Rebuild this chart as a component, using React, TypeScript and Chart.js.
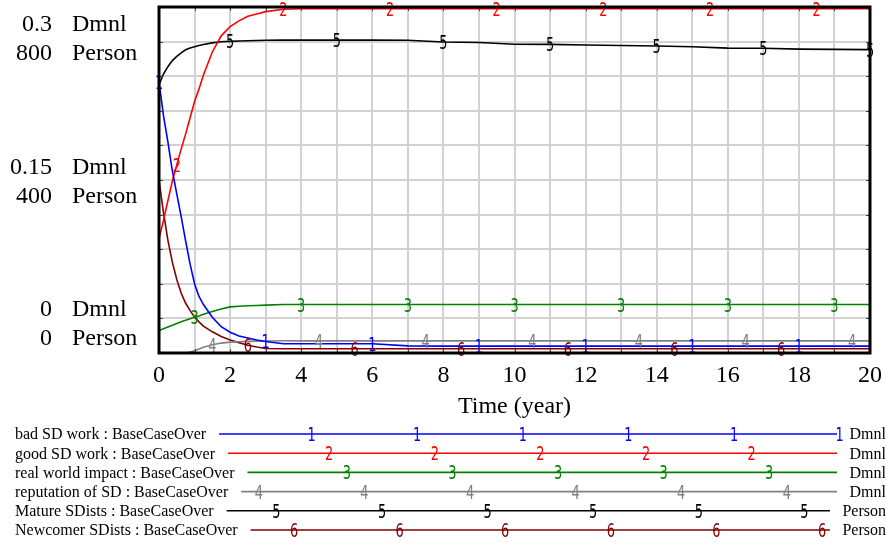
import React, { useEffect, useRef } from 'react';
import { Chart, registerables } from 'chart.js';

Chart.register(...registerables);

// ---------- DATA ----------
const TIME = [0, 0.125, 0.25, 0.375, 0.5, 0.625, 0.75, 0.875, 1, 1.125, 1.25, 1.5, 1.75, 2, 2.25, 2.5, 2.75, 3, 3.5, 4, 5, 6, 7, 8, 9, 10, 11, 12, 13, 14, 15, 16, 17, 18, 19, 20];

const BAD_SD_WORK = [0.235, 0.206, 0.183, 0.158, 0.138, 0.118, 0.097, 0.077, 0.06, 0.049, 0.042, 0.031, 0.0228, 0.018, 0.0148, 0.013, 0.0112, 0.01, 0.008, 0.008, 0.008, 0.008, 0.0062, 0.006, 0.006, 0.006, 0.006, 0.006, 0.006, 0.006, 0.006, 0.006, 0.006, 0.006, 0.006, 0.006];
const GOOD_SD_WORK = [0.099, 0.115, 0.132, 0.149, 0.163, 0.177, 0.19, 0.204, 0.218, 0.229, 0.241, 0.261, 0.275, 0.283, 0.288, 0.292, 0.294, 0.296, 0.298, 0.2985, 0.2985, 0.2985, 0.2985, 0.2985, 0.2985, 0.2985, 0.2985, 0.2985, 0.2985, 0.2985, 0.2985, 0.2985, 0.2985, 0.2985, 0.2985, 0.2985];
const REAL_WORLD_IMPACT = [0.0195, 0.021, 0.0226, 0.0241, 0.0256, 0.027, 0.0284, 0.0297, 0.031, 0.032, 0.0335, 0.036, 0.0382, 0.04, 0.0406, 0.041, 0.0412, 0.0415, 0.042, 0.042, 0.042, 0.042, 0.042, 0.042, 0.042, 0.042, 0.042, 0.042, 0.042, 0.042, 0.042, 0.042, 0.042, 0.042, 0.042, 0.042];
const REPUTATION_OF_SD = [0, 0, 0, 0, 0, 0, 0, 0.0008, 0.002, 0.0034, 0.005, 0.0072, 0.0086, 0.0094, 0.0098, 0.0101, 0.0103, 0.0104, 0.0106, 0.0105, 0.0105, 0.0105, 0.0105, 0.0105, 0.0105, 0.0105, 0.0105, 0.0105, 0.0105, 0.0105, 0.0105, 0.0105, 0.0105, 0.0105, 0.0105, 0.0105];
const MATURE_SDISTS = [620, 645, 662, 676, 686, 694, 701, 705, 708, 711, 713.5, 717, 719.5, 720.5, 721.5, 722, 722.5, 723, 723.5, 723.5, 723.5, 723.5, 723, 719, 718, 714, 713.5, 712, 711, 710, 708, 705, 704.5, 702.5, 702, 701.5];
const NEWCOMER_SDISTS = [400, 325, 261, 210, 170, 138, 115, 98, 83, 72, 62, 49, 38, 30, 24, 18, 14, 10.5, 9.8, 9.7, 9.7, 9.7, 9.7, 9.7, 9.7, 9.7, 9.7, 9.7, 9.7, 9.7, 9.7, 9.7, 9.7, 9.7, 9.7, 9.7];

const SERIES_NAMES = ['bad SD work', 'good SD work', 'real world impact', 'reputation of SD', 'Mature SDists', 'Newcomer SDists'];
const SERIES_UNITS = ['Dmnl', 'Dmnl', 'Dmnl', 'Dmnl', 'Person', 'Person'];
const SERIES_VALUES = [BAD_SD_WORK, GOOD_SD_WORK, REAL_WORLD_IMPACT, REPUTATION_OF_SD, MATURE_SDISTS, NEWCOMER_SDISTS];
const SERIES_COLORS = ['#0000ff', '#ff0000', '#008000', '#808080', '#000000', '#800000'];
const RUN_NAME = 'BaseCaseOver';

const X_TICKS = [0, 2, 4, 6, 8, 10, 12, 14, 16, 18, 20];
const X_TITLE = 'Time (year)';
const DMNL_LABELS = ['0.3', '0.15', '0'];
const PERSON_LABELS = ['800', '400', '0'];

// ---------- helpers ----------
function interp(ts: number[], vs: number[], t: number) {
  if (t <= ts[0]) return vs[0];
  for (let i = 1; i < ts.length; i++) {
    if (t <= ts[i]) {
      const f = (t - ts[i - 1]) / (ts[i] - ts[i - 1]);
      return vs[i - 1] + f * (vs[i] - vs[i - 1]);
    }
  }
  return vs[vs.length - 1];
}

function drawMarker(ctx: CanvasRenderingContext2D, txt: string, x: number, y: number, color: string) {
  ctx.save();
  ctx.translate(x, y + 7);
  ctx.scale(0.68, 1);
  ctx.font = '19px "DejaVu Sans"';
  ctx.fillStyle = color;
  ctx.textAlign = 'center';
  ctx.textBaseline = 'alphabetic';
  ctx.fillText(txt, 0, 0);
  ctx.restore();
}

const vensimPlugin = {
  id: 'vensim',
  afterDatasetsDraw(chart: any) {
    const ctx: CanvasRenderingContext2D = chart.ctx;
    const xs = chart.scales.x;
    for (let k = 0; k < SERIES_VALUES.length; k++) {
      const axis = chart.scales[SERIES_UNITS[k] === 'Dmnl' ? 'yD' : 'yP'];
      for (let t = k * 0.5; t <= 20.001; t += 3) {
        const v = interp(TIME, SERIES_VALUES[k], t);
        drawMarker(ctx, String(k + 1), xs.getPixelForValue(t), axis.getPixelForValue(v), SERIES_COLORS[k]);
      }
    }
  },
  afterDraw(chart: any) {
    const ctx: CanvasRenderingContext2D = chart.ctx;
    const a = chart.chartArea;
    const xs = chart.scales.x;
    ctx.save();
    // small ticks on frame
    ctx.strokeStyle = '#444';
    ctx.lineWidth = 1;
    for (let t = 1; t < 20; t++) {
      const x = Math.round(xs.getPixelForValue(t)) + 0.5;
      ctx.beginPath();
      ctx.moveTo(x, a.top); ctx.lineTo(x, a.top + 4);
      ctx.moveTo(x, a.bottom); ctx.lineTo(x, a.bottom - 4);
      ctx.stroke();
    }
    for (let j = 1; j < 10; j++) {
      const y = Math.round(a.top + (a.bottom - a.top) * j / 10) + 0.5;
      ctx.beginPath();
      ctx.moveTo(a.left, y); ctx.lineTo(a.left + 4, y);
      ctx.moveTo(a.right, y); ctx.lineTo(a.right - 4, y);
      ctx.stroke();
    }
    // frame
    ctx.strokeStyle = '#000';
    ctx.lineWidth = 3;
    ctx.strokeRect(a.left, a.top, a.right - a.left, a.bottom - a.top);

    // y labels
    ctx.fillStyle = '#000';
    ctx.font = '24px "Liberation Serif"';
    ctx.textBaseline = 'alphabetic';
    const dBase = [30.5, 173.5, 315.5];
    for (let i = 0; i < 3; i++) {
      ctx.textAlign = 'right';
      ctx.fillText(DMNL_LABELS[i], 52, dBase[i]);
      ctx.fillText(PERSON_LABELS[i], 52, dBase[i] + 29.5);
      ctx.textAlign = 'left';
      ctx.fillText('Dmnl', 72, dBase[i]);
      ctx.fillText('Person', 72, dBase[i] + 29.5);
    }
    // x ticks
    ctx.textAlign = 'center';
    for (const t of X_TICKS) {
      ctx.fillText(String(t), xs.getPixelForValue(t), 382);
    }
    ctx.fillText(X_TITLE, (a.left + a.right) / 2, 413);

    // legend
    ctx.font = '16px "Liberation Serif"';
    for (let k = 0; k < SERIES_NAMES.length; k++) {
      const base = 439.3 + k * 19.2;
      const ly = base - 5.3;
      const label = SERIES_NAMES[k] + ' : ' + RUN_NAME;
      ctx.textAlign = 'left';
      ctx.fillStyle = '#000';
      ctx.fillText(label, 15, base);
      const tw = ctx.measureText(label).width;
      ctx.textAlign = 'right';
      ctx.fillText(SERIES_UNITS[k], 886, base);
      const uw = ctx.measureText(SERIES_UNITS[k]).width;
      const x0 = 15 + tw + 13;
      const x1 = 886 - uw - 12.5;
      ctx.strokeStyle = SERIES_COLORS[k];
      ctx.lineWidth = 1.6;
      ctx.beginPath();
      ctx.moveTo(x0, ly); ctx.lineTo(x1, ly);
      ctx.stroke();
      for (let n = 0; n < 10; n++) {
        const mx = 206 + k * 17.6 + n * 105.6;
        if (mx >= x0 && mx <= x1 + 3) drawMarker(ctx, String(k + 1), mx, ly, SERIES_COLORS[k]);
      }
    }
    ctx.restore();
  },
};

export default function App() {
  const ref = useRef<HTMLCanvasElement | null>(null);
  useEffect(() => {
    if (!ref.current) return;
    const datasets = SERIES_VALUES.map((vals, k) => ({
      label: SERIES_NAMES[k],
      data: TIME.map((t, i) => ({ x: t, y: vals[i] })),
      yAxisID: SERIES_UNITS[k] === 'Dmnl' ? 'yD' : 'yP',
      borderColor: SERIES_COLORS[k],
      backgroundColor: SERIES_COLORS[k],
      borderWidth: 1.6,
      pointRadius: 0,
      tension: 0,
      fill: false,
    }));
    const chart = new Chart(ref.current, {
      type: 'line',
      data: { datasets },
      options: {
        animation: false,
        responsive: false,
        events: [],
        layout: { padding: { left: 159, top: 7, right: 16, bottom: 190 } },
        plugins: { legend: { display: false }, tooltip: { enabled: false } },
        scales: {
          x: {
            type: 'linear', min: 0, max: 20,
            ticks: { display: false, stepSize: 1 },
            grid: { color: '#d2d2d2', lineWidth: 2, drawTicks: false },
            border: { display: false },
            afterFit: (s: any) => { s.height = 0; },
          },
          yD: {
            type: 'linear', position: 'left', min: 0, max: 0.3,
            ticks: { display: false, stepSize: 0.03, count: 11 },
            grid: { color: '#d2d2d2', lineWidth: 2, drawTicks: false },
            border: { display: false },
            afterFit: (s: any) => { s.width = 0; },
          },
          yP: {
            type: 'linear', position: 'left', min: 0, max: 800,
            ticks: { display: false },
            grid: { display: false, drawTicks: false },
            border: { display: false },
            afterFit: (s: any) => { s.width = 0; },
          },
        },
      } as any,
      plugins: [vensimPlugin],
    });
    return () => chart.destroy();
  }, []);
  return (
    <div style={{ position: 'fixed', left: 0, top: 0, width: 886, height: 543, background: '#fff' }}>
      <canvas ref={ref} width={886} height={543} style={{ display: 'block' }} />
    </div>
  );
}
